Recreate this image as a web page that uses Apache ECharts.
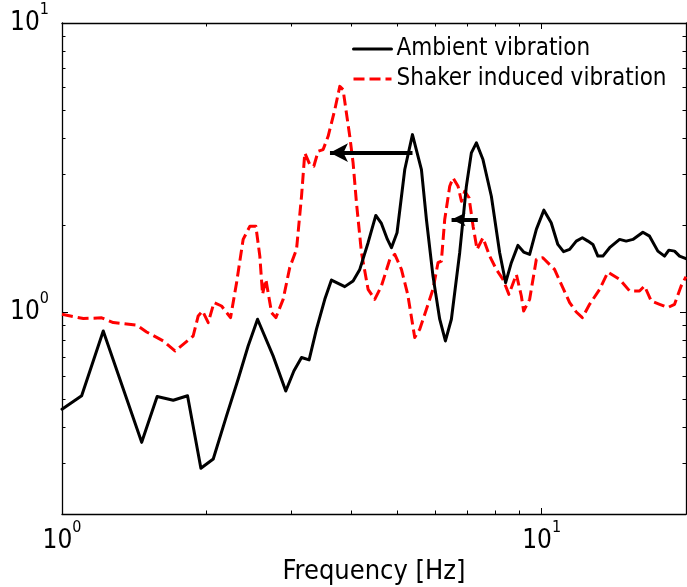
<!DOCTYPE html>
<html>
<head>
<meta charset="utf-8">
<script src="https://cdn.jsdelivr.net/npm/echarts@6/dist/echarts.min.js"></script>
<style>
html,body{margin:0;padding:0;background:#fff;}
#chart{width:687px;height:587px;}
</style>
</head>
<body>
<div id="chart"></div>
<script>
// ---- data ----
const freqAmbient = [1.0, 1.099, 1.219, 1.466, 1.579, 1.706, 1.827, 1.948, 2.067, 2.203, 2.330, 2.444, 2.557, 2.755, 2.928, 3.044, 3.158, 3.275, 3.393, 3.531, 3.646, 3.887, 4.045, 4.177, 4.347, 4.511, 4.634, 4.770, 4.863, 4.995, 5.184, 5.379, 5.616, 5.752, 5.936, 6.131, 6.301, 6.484, 6.748, 6.968, 7.137, 7.311, 7.546, 7.856, 8.176, 8.414, 8.647, 8.926, 9.173, 9.441, 9.750, 10.11, 10.47, 10.81, 11.11, 11.44, 11.81, 12.16, 12.49, 12.79, 13.10, 13.42, 13.86, 14.54, 15.01, 15.50, 16.26, 16.79, 17.47, 18.04, 18.42, 18.93, 19.39, 20.0];
const valAmbient = [0.461, 0.513, 0.860, 0.354, 0.510, 0.495, 0.513, 0.288, 0.310, 0.437, 0.586, 0.763, 0.944, 0.705, 0.533, 0.625, 0.696, 0.683, 0.872, 1.106, 1.290, 1.224, 1.280, 1.404, 1.737, 2.158, 2.025, 1.783, 1.669, 1.880, 3.111, 4.110, 3.111, 2.090, 1.331, 0.944, 0.794, 0.944, 1.604, 2.724, 3.553, 3.847, 3.369, 2.515, 1.604, 1.263, 1.481, 1.700, 1.612, 1.582, 1.931, 2.251, 2.036, 1.713, 1.617, 1.647, 1.759, 1.807, 1.759, 1.713, 1.561, 1.561, 1.669, 1.783, 1.759, 1.783, 1.889, 1.830, 1.624, 1.561, 1.637, 1.624, 1.561, 1.529];

const freqShaker = [1.0, 1.108, 1.210, 1.279, 1.431, 1.501, 1.626, 1.720, 1.789, 1.877, 1.923, 1.964, 2.018, 2.074, 2.151, 2.246, 2.312, 2.386, 2.465, 2.536, 2.585, 2.619, 2.661, 2.735, 2.792, 2.891, 2.985, 3.083, 3.158, 3.208, 3.286, 3.350, 3.420, 3.503, 3.588, 3.705, 3.795, 3.855, 3.981, 4.045, 4.111, 4.211, 4.347, 4.488, 4.634, 4.825, 4.942, 5.102, 5.258, 5.438, 5.570, 5.752, 5.936, 6.081, 6.180, 6.280, 6.433, 6.536, 6.695, 6.805, 6.914, 7.058, 7.196, 7.335, 7.546, 7.793, 8.047, 8.306, 8.548, 8.859, 9.073, 9.173, 9.441, 9.750, 10.06, 10.64, 11.44, 11.81, 12.16, 12.59, 13.21, 13.75, 14.54, 15.26, 16.00, 16.39, 16.93, 17.62, 18.33, 18.93, 19.54, 20.0];
const valShaker = [0.982, 0.949, 0.955, 0.919, 0.900, 0.853, 0.794, 0.733, 0.773, 0.826, 0.969, 1.008, 0.919, 1.078, 1.049, 0.956, 1.263, 1.783, 1.982, 1.982, 1.561, 1.151, 1.297, 0.995, 0.956, 1.106, 1.427, 1.647, 2.515, 3.553, 3.236, 3.194, 3.598, 3.648, 4.055, 5.013, 6.035, 5.879, 4.055, 3.281, 2.387, 1.604, 1.198, 1.106, 1.230, 1.521, 1.582, 1.404, 1.151, 0.816, 0.872, 1.022, 1.198, 1.481, 1.500, 2.090, 2.724, 2.912, 2.724, 2.417, 2.618, 2.484, 1.982, 1.647, 1.807, 1.561, 1.404, 1.297, 1.151, 1.349, 1.136, 1.008, 1.106, 1.521, 1.541, 1.404, 1.078, 1.000, 0.956, 1.063, 1.198, 1.374, 1.297, 1.182, 1.182, 1.230, 1.091, 1.063, 1.036, 1.063, 1.230, 1.325];

const seriesNames = ['Ambient vibration', 'Shaker induced vibration'];

// arrows (annotation): [fromFreq, toFreq, level]
const arrow1 = [5.38, 3.62, 3.56];
const arrow2 = [7.36, 6.49, 2.09];

// axis ticks
const xRange = [1, 20];
const yRange = [0.2, 10];
const xMajor = [1, 10];
const xMinor = [2, 3, 4, 5, 6, 7, 8, 9];
const yMajor = [1, 10];
const yMinor = [0.2, 0.3, 0.4, 0.5, 0.6, 0.7, 0.8, 0.9, 2, 3, 4, 5, 6, 7, 8, 9];
const xTitle = 'Frequency [Hz]';

// ---- chart ----
const FONT = "'DejaVu Sans Condensed', 'DejaVu Sans', sans-serif";
const zip = (a, b) => a.map((v, i) => [v, b[i]]);
const supFmt = v => '{b|10}{s|' + Math.round(Math.log10(v)) + '}';
const richLab = {
  b: { fontSize: 26, lineHeight: 42, fontFamily: FONT, color: '#000' },
  s: { fontSize: 16, lineHeight: 16, fontFamily: FONT, color: '#000', verticalAlign: 'top' }
};
const lineCol = { color: '#000', width: 1.3 };

function xAx(pos, ticks, len, showLine, label) {
  return {
    type: 'log', logBase: 10, min: xRange[0], max: xRange[1], position: pos,
    axisLine: { show: showLine, onZero: false, lineStyle: lineCol },
    axisTick: { show: true, inside: true, length: len, customValues: ticks, lineStyle: { color: '#000', width: 1 } },
    axisLabel: label ? { show: true, customValues: xMajor, formatter: supFmt, rich: richLab, margin: 6, verticalAlign: 'top' } : { show: false },
    splitLine: { show: false }, minorTick: { show: false }, minorSplitLine: { show: false },
    name: label ? xTitle : '', nameLocation: 'middle', nameGap: 40,
    nameTextStyle: { fontSize: 27, fontFamily: FONT, color: '#000' }
  };
}
function yAx(pos, ticks, len, showLine, label) {
  return {
    type: 'log', logBase: 10, min: yRange[0], max: yRange[1], position: pos,
    axisLine: { show: showLine, onZero: false, lineStyle: lineCol },
    axisTick: { show: true, inside: true, length: len, customValues: ticks, lineStyle: { color: '#000', width: 1 } },
    axisLabel: label ? { show: true, customValues: yMajor, formatter: supFmt, rich: richLab, margin: 13 } : { show: false },
    splitLine: { show: false }, minorTick: { show: false }, minorSplitLine: { show: false }
  };
}

const chart = echarts.init(document.getElementById('chart'), null, { renderer: 'canvas' });
chart.setOption({
  animation: false,
  backgroundColor: '#fff',
  grid: { left: 62, right: 1, top: 23, bottom: 73, containLabel: false, outerBoundsMode: 'none' },
  legend: {
    orient: 'vertical', left: 352, top: 37, itemGap: 6, itemWidth: 38, itemHeight: 14, padding: 0,
    selectedMode: false,
    textStyle: { fontSize: 24, fontFamily: FONT, color: '#000' },
    lineStyle: { width: 3 },
    itemStyle: { opacity: 0 },
    data: seriesNames
  },
  xAxis: [
    xAx('bottom', xMajor, 6, true, true),
    xAx('bottom', xMinor, 3.5, false, false),
    xAx('top', xMajor, 6, true, false),
    xAx('top', xMinor, 3.5, false, false)
  ],
  yAxis: [
    yAx('left', yMajor, 6, true, true),
    yAx('left', yMinor, 3.5, false, false),
    yAx('right', yMajor, 6, true, false),
    yAx('right', yMinor, 3.5, false, false)
  ],
  series: [
    {
      name: seriesNames[0], type: 'line', xAxisIndex: 0, yAxisIndex: 0,
      data: zip(freqAmbient, valAmbient), symbol: 'none', smooth: false,
      lineStyle: { color: '#000', width: 3, join: 'round', cap: 'round' },
      itemStyle: { color: '#000' }, z: 3,
      markLine: {
        silent: true, symbol: ['none', 'arrow'], symbolSize: [14, 18],
        label: { show: false },
        lineStyle: { color: '#000', width: 4, type: 'solid' },
        data: [
          [{ coord: [arrow1[0], arrow1[2]] }, { coord: [arrow1[1], arrow1[2]] }],
          [{ coord: [arrow2[0], arrow2[2]], symbolSize: [10, 14] }, { coord: [arrow2[1], arrow2[2]], symbolSize: [10, 14] }]
        ]
      }
    },
    {
      name: seriesNames[1], type: 'line', xAxisIndex: 0, yAxisIndex: 0,
      data: zip(freqShaker, valShaker), symbol: 'none', smooth: false,
      lineStyle: { color: '#ff0000', width: 3, type: [11, 5], join: 'round' },
      itemStyle: { color: '#ff0000' }, z: 2
    }
  ]
});
</script>
</body>
</html>
